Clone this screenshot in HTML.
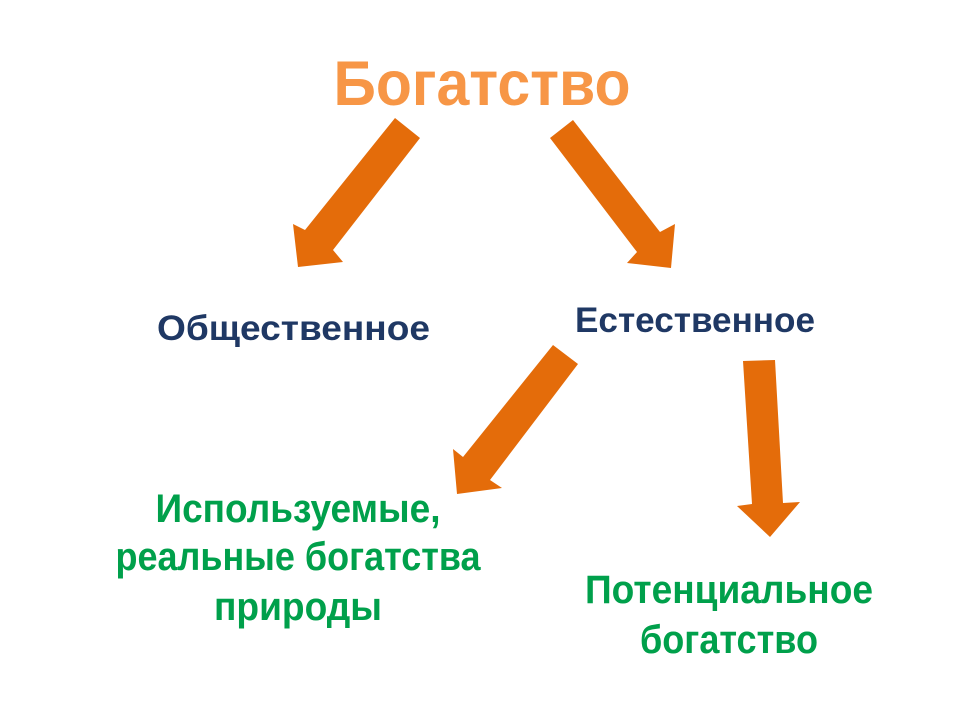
<!DOCTYPE html>
<html><head><meta charset="utf-8"><style>html,body{margin:0;padding:0;background:#fff}svg{display:block}</style></head>
<body>
<svg width="960" height="720" viewBox="0 0 960 720" xmlns="http://www.w3.org/2000/svg" font-family="Liberation Sans, sans-serif" font-weight="bold">
<rect width="960" height="720" fill="#fff"/>
<g fill="#E46C0A">
<polygon points="395,118 420,138 333,250 343,262 298,267 293,224 305,230"/>
<polygon points="573,120 660,232 675,224 671,268 627,263 637,252 550,138"/>
<polygon points="553,345 578,364 490,480 502,488 457,494 453,449 463,457"/>
<polygon points="743,361 775,360 783,503 800,502 770,537 737,506 752,504"/>
</g>
<text x="482" y="105" font-size="63" fill="#F79646" text-anchor="middle" textLength="297" lengthAdjust="spacingAndGlyphs">Богатство</text>
<g fill="#1F3864" font-size="35">
<text x="157" y="340" textLength="273" lengthAdjust="spacingAndGlyphs">Общественное</text>
<text x="575" y="332" textLength="240" lengthAdjust="spacingAndGlyphs">Естественное</text>
</g>
<g fill="#00A04B" font-size="40" text-anchor="middle">
<text x="298" y="522" textLength="285" lengthAdjust="spacingAndGlyphs">Используемые,</text>
<text x="298" y="570" textLength="365" lengthAdjust="spacingAndGlyphs">реальные богатства</text>
<text x="298" y="620" textLength="168" lengthAdjust="spacingAndGlyphs">природы</text>
<text x="729" y="603" textLength="288" lengthAdjust="spacingAndGlyphs">Потенциальное</text>
<text x="729" y="653" textLength="178" lengthAdjust="spacingAndGlyphs">богатство</text>
</g>
</svg>
</body></html>
